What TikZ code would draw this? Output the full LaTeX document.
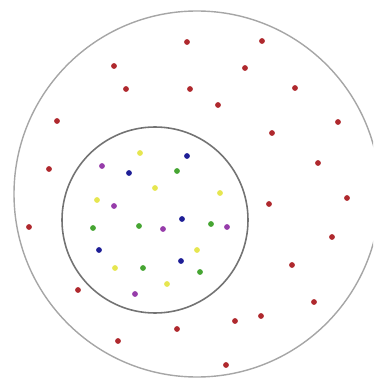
\documentclass[tikz,border=0pt]{standalone}
\usepackage{tikz}
\definecolor{dotred}{RGB}{175,40,45}
\definecolor{dotblue}{RGB}{30,30,150}
\definecolor{dotpurple}{RGB}{150,60,170}
\definecolor{dotgreen}{RGB}{70,165,50}
\definecolor{dotyellow}{RGB}{230,230,80}
\tikzset{ring_out/.style={draw=gray!70, line width=0.8pt},
ring_in/.style={draw=gray!90!black, line width=0.9pt},
dot/.style={radius=2.9}}

\begin{document}
\begin{tikzpicture}[x=0.02cm, y=-0.02cm]
  \useasboundingbox (0,0) rectangle (373,381);
  \clip (0,0) rectangle (373,381);
  % rings
  \draw[ring_out] (197,194) circle (183);
  \draw[ring_in] (155,220) circle (93);
  % outer points
  \foreach \px/\py in {187/42, 262/41, 114/66, 245/68, 126/89, 190/89, 295/88, 218/105, 57/121, 338/122, 272/133, 49/169, 318/163, 347/198, 269/204, 29/227, 332/237, 292/265, 78/290, 314/302, 261/316, 235/321, 177/329, 118/341, 226/365}
    \fill[dotred, dot] (\px,\py) circle;
  % inner points
  \foreach \px/\py in {140/153, 155/188, 97/200, 220/193, 115/268, 197/250, 167/284}
    \fill[dotyellow, dot] (\px,\py) circle;
  \foreach \px/\py in {187/156, 129/173, 182/219, 99/250, 181/261}
    \fill[dotblue, dot] (\px,\py) circle;
  \foreach \px/\py in {102/166, 114/206, 163/229, 227/227, 135/294}
    \fill[dotpurple, dot] (\px,\py) circle;
  \foreach \px/\py in {177/171, 93/228, 139/226, 211/224, 143/268, 200/272}
    \fill[dotgreen, dot] (\px,\py) circle;
\end{tikzpicture}
\end{document}
